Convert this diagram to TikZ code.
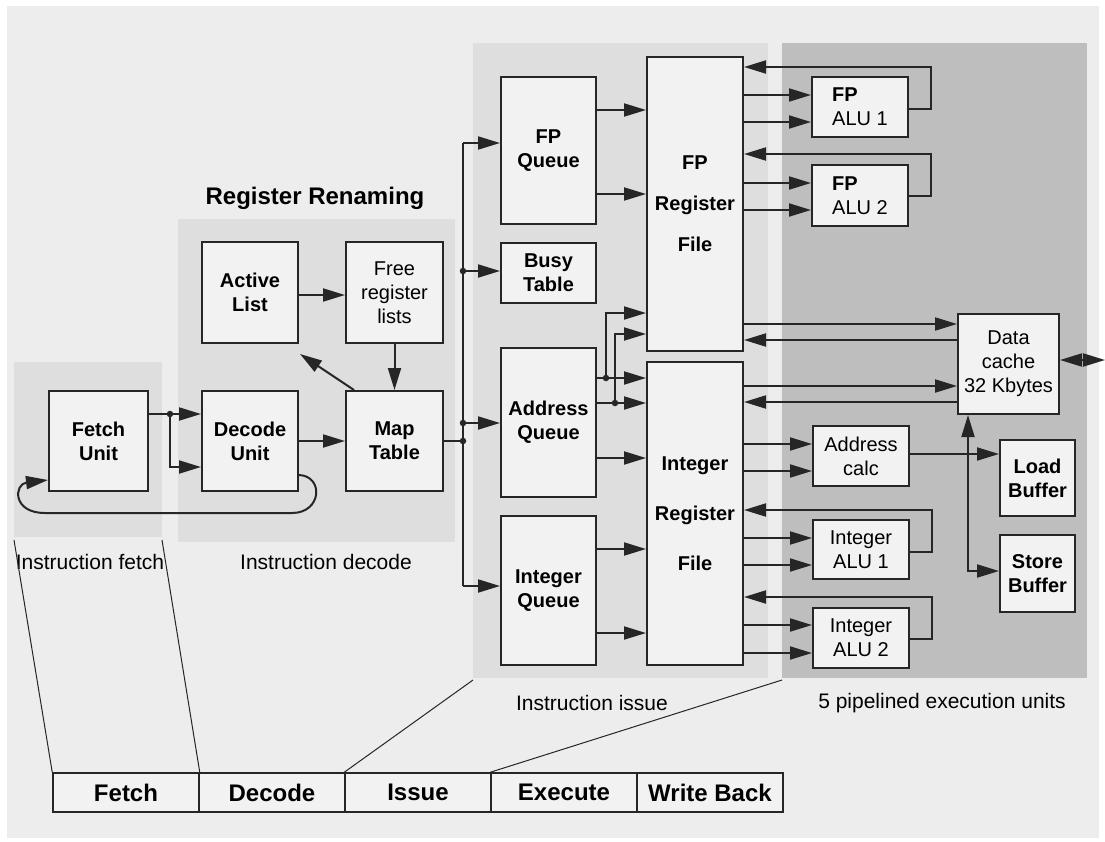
\documentclass[tikz,border=0pt]{standalone}
\usepackage{fontspec}
\setmainfont{Liberation Sans}
\usetikzlibrary{arrows.meta,calc}
\definecolor{panel}{HTML}{EDEDED}
\definecolor{regl}{HTML}{DEDEDE}
\definecolor{regd}{HTML}{BEBEBE}
\definecolor{boxf}{HTML}{F2F2F2}
\definecolor{ln}{HTML}{262626}
\begin{document}
\begin{tikzpicture}[x=1pt,y=-1pt,
  wire/.style={line width=2pt, draw=ln},
  arw/.style={wire, -{Triangle[length=22pt,width=13pt]}},
  biw/.style={wire, {Triangle[length=22pt,width=13pt]}-{Triangle[length=22pt,width=13pt]}},
  thinl/.style={line width=1pt, draw=ln},
  bbox/.style={draw=ln, line width=2pt, fill=boxf, inner sep=0pt, align=center,
     font=\bfseries\fontsize{20}{24}\selectfont},
  rbox/.style={draw=ln, line width=2pt, fill=boxf, inner sep=0pt, align=center,
     font=\fontsize{20}{24}\selectfont},
  cell/.style={draw=ln, line width=1.5pt, fill=boxf, inner sep=0pt,
     minimum width=146, minimum height=39, font=\bfseries\fontsize{24}{28}\selectfont},
  lbl/.style={inner sep=0pt, font=\fontsize{21}{25}\selectfont},
  jdot/.style={circle, fill=ln, inner sep=0pt, minimum size=6.5pt}]
\useasboundingbox (0,0) rectangle (1105,841);
\fill[white] (0,0) rectangle (1105,841);
\fill[panel] (7,6) rectangle (1099,838);
% shaded regions
\fill[regl] (14,362) rectangle (162,537);
\fill[regl] (178,219) rectangle (455,542);
\fill[regl] (473,43) rectangle (768,678);
\fill[regd] (782,43) rectangle (1087,678);
% region labels
\node[lbl, font=\bfseries\fontsize{24}{28}\selectfont] (rrn) at (315,198) {Register Renaming};
\node[lbl] (lfetch) at (90,562) {Instruction fetch};
\node[lbl] (ldec) at (326,562) {Instruction decode};
\node[lbl] (liss) at (592,703) {Instruction issue};
\node[lbl] (lexe) at (942,703) {5 pipelined execution units};
% boxes
\node[bbox, minimum width=99, minimum height=100] (fetch) at (98.5,441) {Fetch\\Unit};
\node[bbox, minimum width=96, minimum height=100] (decode) at (250,441) {Decode\\Unit};
\node[bbox, minimum width=97, minimum height=100] (map) at (394.5,441) {Map\\Table};
\node[bbox, minimum width=96, minimum height=101] (active) at (250,292.5) {Active\\List};
\node[rbox, minimum width=97, minimum height=101] (free) at (394.5,292.5) {Free\\register\\lists};
\node[bbox, minimum width=95, minimum height=147] (fpq) at (548.5,150.5) {FP\\Queue};
\node[bbox, minimum width=95, minimum height=60] (busy) at (548.5,273) {Busy\\Table};
\node[bbox, minimum width=95, minimum height=149] (addrq) at (548.5,422.5) {Address\\Queue};
\node[bbox, minimum width=95, minimum height=149] (intq) at (548.5,590.5) {Integer\\Queue};
\node[bbox, minimum width=96, minimum height=294, font=\bfseries\fontsize{20}{41}\selectfont] (fpreg) at (695,204) {FP\\Register\\File};
\node[bbox, minimum width=96, minimum height=303, font=\bfseries\fontsize{20}{50}\selectfont] (intreg) at (695,513.5) {Integer\\Register\\File};
\node[rbox, align=left, minimum width=96, minimum height=60] (fpalu1) at (860,107) {\textbf{FP}\\ALU 1};
\node[rbox, align=left, minimum width=96, minimum height=61] (fpalu2) at (860,195.5) {\textbf{FP}\\ALU 2};
\node[rbox, minimum width=101, minimum height=100] (dcache) at (1008.5,364) {Data\\cache\\32 Kbytes};
\node[rbox, minimum width=96, minimum height=60] (addrc) at (861,456) {Address\\calc};
\node[rbox, minimum width=96, minimum height=59] (intalu1) at (861,549.5) {Integer\\ALU 1};
\node[rbox, minimum width=96, minimum height=60] (intalu2) at (861,638) {Integer\\ALU 2};
\node[bbox, minimum width=75, minimum height=76] (load) at (1037.5,478) {Load\\Buffer};
\node[bbox, minimum width=75, minimum height=77] (store) at (1037.5,573.5) {Store\\Buffer};
% pipeline table
\node[cell] (cfetch) at (126,792.5) {Fetch};
\node[cell] (cdec) at (272,792.5) {Decode};
\node[cell] (ciss) at (418,792.5) {Issue};
\node[cell] (cexe) at (564,792.5) {Execute};
\node[cell] (cwb) at (710,792.5) {Write Back};
\coordinate (rf1) at (14,540);
\coordinate (rf2) at (162,540);
\coordinate (ri) at (473,680);
\coordinate (re) at (782,680);
\draw[thinl] (rf1) -- (cfetch.north west);
\draw[thinl] (rf2) -- (cfetch.north east);
\draw[thinl] (ri) -- (ciss.north west);
\draw[thinl] (re) -- (cexe.north west);
% fetch / decode
\coordinate (fd) at (170,414);
\draw[wire] (fetch.east |- fd) -- (fd);
\draw[arw] (fd) -- (decode.west |- fd);
\draw[arw] (fd) |- (decode.west |- 0,467);
\node[jdot] at (fd) {};
\draw[arw] (decode.east) -- (map.west);
\draw[arw] ($(decode.east)+(0,34)$) .. controls (324,476) and (322,513) .. (292,513)
   -- (45,513) .. controls (12,513) and (14,484) .. (fetch.west |- 0,480);
% renaming
\draw[arw] ($(map.north west)+(9,0)$) -- ($(active.south east)+(1,10)$);
\draw[arw] (active.east |- 0,295) -- (free.west |- 0,295);
\draw[arw] (free.south) -- (map.north);
% bus
\coordinate (jtop) at (463,143);
\coordinate (jbusy) at (463,271);
\coordinate (jaddr) at (463,423);
\coordinate (jmap) at (463,441);
\coordinate (jbot) at (463,586);
\draw[wire] (map.east) -- (jmap);
\draw[wire] (jtop) -- (jbot);
\draw[arw] (jtop) -- (fpq.west |- jtop);
\draw[arw] (jbusy) -- (busy.west |- jbusy);
\draw[arw] (jaddr) -- (addrq.west |- jaddr);
\draw[arw] (jbot) -- (intq.west |- jbot);
\node[jdot] at (jbusy) {};
\node[jdot] at (jaddr) {};
\node[jdot] at (jmap) {};
% queues to register files
\draw[arw] (fpq.east |- 0,110) -- (fpreg.west |- 0,110);
\draw[arw] (fpq.east |- 0,194) -- (fpreg.west |- 0,194);
\coordinate (aq1) at (606,378);
\coordinate (aq2) at (615,403);
\draw[wire] (addrq.east |- aq1) -- (aq1);
\draw[arw] (aq1) -- (intreg.west |- aq1);
\draw[arw] (aq1) |- (fpreg.west |- 0,313);
\draw[wire] (addrq.east |- aq2) -- (aq2);
\draw[arw] (aq2) -- (intreg.west |- aq2);
\draw[arw] (aq2) |- (fpreg.west |- 0,334);
\node[jdot] at (aq1) {};
\node[jdot] at (aq2) {};
\draw[arw] (addrq.east |- 0,458) -- (intreg.west |- 0,458);
\draw[arw] (intq.east |- 0,549) -- (intreg.west |- 0,549);
\draw[arw] (intq.east |- 0,633) -- (intreg.west |- 0,633);
% FP ALUs
\draw[arw] (fpreg.east |- 0,95) -- (fpalu1.west |- 0,95);
\draw[arw] (fpreg.east |- 0,122) -- (fpalu1.west |- 0,122);
\draw[arw] (fpalu1.east |- 0,109) -- (931,109) -- (931,67) -- (fpreg.east |- 0,67);
\draw[arw] (fpreg.east |- 0,183) -- (fpalu2.west |- 0,183);
\draw[arw] (fpreg.east |- 0,210) -- (fpalu2.west |- 0,210);
\draw[arw] (fpalu2.east |- 0,196) -- (931,196) -- (931,154) -- (fpreg.east |- 0,154);
% data cache
\draw[arw] (fpreg.east |- 0,324) -- (dcache.west |- 0,324);
\draw[arw] (dcache.west |- 0,340) -- (fpreg.east |- 0,340);
\draw[arw] (intreg.east |- 0,386) -- (dcache.west |- 0,386);
\draw[arw] (dcache.west |- 0,402) -- (intreg.east |- 0,402);
\coordinate (ext) at (1105,360);
\draw[biw] (dcache.east |- ext) -- (ext);
% integer side
\draw[arw] (intreg.east |- 0,444) -- (addrc.west |- 0,444);
\draw[arw] (intreg.east |- 0,471) -- (addrc.west |- 0,471);
\draw[arw] (addrc.east |- 0,454) -- (load.west |- 0,454);
\coordinate (sb) at (968,571);
\draw[biw] (dcache.south -| sb) -- (sb) -- (store.west |- sb);
\draw[arw] (intreg.east |- 0,538) -- (intalu1.west |- 0,538);
\draw[arw] (intreg.east |- 0,565) -- (intalu1.west |- 0,565);
\draw[arw] (intalu1.east |- 0,552) -- (932,552) -- (932,510) -- (intreg.east |- 0,510);
\draw[arw] (intreg.east |- 0,625) -- (intalu2.west |- 0,625);
\draw[arw] (intreg.east |- 0,653) -- (intalu2.west |- 0,653);
\draw[arw] (intalu2.east |- 0,639) -- (932,639) -- (932,597) -- (intreg.east |- 0,597);
\end{tikzpicture}
\end{document}
